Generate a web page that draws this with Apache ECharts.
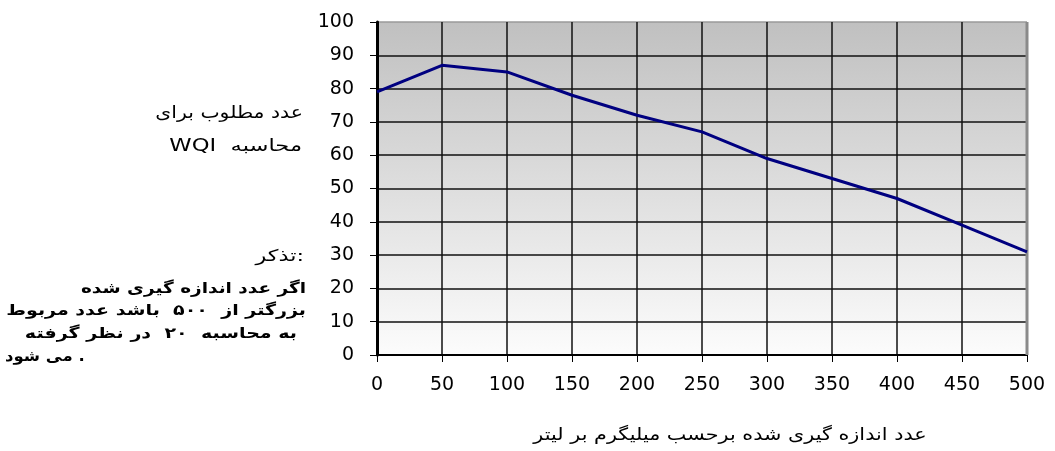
<!DOCTYPE html>
<html>
<head>
<meta charset="utf-8">
<script src="https://cdn.jsdelivr.net/npm/echarts@6/dist/echarts.min.js"></script>
<style>html,body{margin:0;padding:0;background:#fff}#c{width:1055px;height:451px}</style>
</head>
<body>
<div id="c"></div>
<script>
// Data
const xValues = [0, 50, 100, 150, 200, 250, 300, 350, 400, 450, 500];
const yValues = [79, 87, 85, 78, 72, 67, 59, 53, 47, 39, 31];
const xTickLabels = ['0','50','100','150','200','250','300','350','400','450','500'];
const yTickLabels = ['0','10','20','30','40','50','60','70','80','90','100'];
const yTitleLines = ['عدد مطلوب برای', 'WQI  محاسبه'];
const noteTitle = 'تذکر:';
const noteLines = ['اگر عدد اندازه گیری شده', 'بزرگتر از  ۵۰۰  باشد عدد مربوط', 'به محاسبه  ۲۰  در نظر گرفته', 'می شود .'];
const xTitle = 'عدد اندازه گیری شده برحسب میلیگرم بر لیتر';

const chart = echarts.init(document.getElementById('c'), null, {renderer: 'canvas'});
const FONT = 'DejaVu Sans';
const ySplitColors = yTickLabels.map((_, i) => i === yTickLabels.length - 1 ? '#9a9a9a' : '#111');
const xSplitColors = xTickLabels.map((_, i) => i === xTickLabels.length - 1 ? '#8a8a8a' : '#111');

function txt(t, x, y, font, align, sx) {
  return {type:'text', x:x, y:y, scaleX:sx, style:{text:t, font:font, fill:'#000', align:align, verticalAlign:'middle'}};
}
const graphics = [];
graphics.push(txt(yTitleLines[0], 303, 114, '17px "DejaVu Sans"', 'right', 1.2));
graphics.push(txt(yTitleLines[1], 302, 147, '17px "DejaVu Sans"', 'right', 1.33));
graphics.push(txt(noteTitle, 304, 257, '16px "DejaVu Sans"', 'right', 1.4));
graphics.push(txt(noteLines[0], 306, 289, 'bold 15px "DejaVu Sans"', 'right', 1.23));
graphics.push(txt(noteLines[1], 306, 311, 'bold 15px "DejaVu Sans"', 'right', 1.27));
graphics.push(txt(noteLines[2], 297, 334, 'bold 15px "DejaVu Sans"', 'right', 1.27));
graphics.push(txt(noteLines[3], 5, 357, 'bold 15px "DejaVu Sans"', 'left', 1.1));
graphics.push(txt(xTitle, 730, 436, '17px "DejaVu Sans"', 'center', 1.22));

chart.setOption({
  animation: false,
  backgroundColor: '#fff',
  grid: {
    left: 377, right: 28, top: 22, bottom: 96,
    show: true,
    borderWidth: 0,
    backgroundColor: new echarts.graphic.LinearGradient(0, 0, 0, 1, [
      {offset: 0, color: '#c0c0c0'},
      {offset: 1, color: '#fcfcfc'}
    ])
  },
  xAxis: {
    type: 'value', min: 0, max: 500, interval: 50,
    axisLine: {show: true, onZero: false, lineStyle: {color: '#000', width: 2}},
    axisTick: {show: true, length: 7, lineStyle: {color: '#000', width: 1}},
    axisLabel: {margin: 21, color: '#000', fontFamily: FONT, fontSize: 19,
      formatter: (v) => xTickLabels[xValues.indexOf(v)] ?? ''},
    splitLine: {show: true, lineStyle: {color: xSplitColors, width: 1.5}}
  },
  yAxis: {
    type: 'value', min: 0, max: 100, interval: 10,
    axisLine: {show: true, onZero: false, lineStyle: {color: '#000', width: 3}},
    axisTick: {show: true, length: 7, lineStyle: {color: '#000', width: 1}},
    axisLabel: {margin: 23, color: '#000', fontFamily: FONT, fontSize: 19,
      formatter: (v) => yTickLabels[Math.round(v / 10)] ?? ''},
    splitLine: {show: true, lineStyle: {color: ySplitColors, width: 1.5}}
  },
  graphic: graphics,
  series: [{
    type: 'line',
    data: xValues.map((x, i) => [x, yValues[i]]),
    showSymbol: false,
    symbol: 'none',
    lineStyle: {color: '#000080', width: 3},
    z: 5
  }, {
    // right border of plot area (gray)
    type: 'line',
    data: [[500, 0], [500, 100]],
    symbol: 'none',
    silent: true,
    lineStyle: {color: '#8a8a8a', width: 3},
    z: 4
  }]
});
</script>
</body>
</html>
